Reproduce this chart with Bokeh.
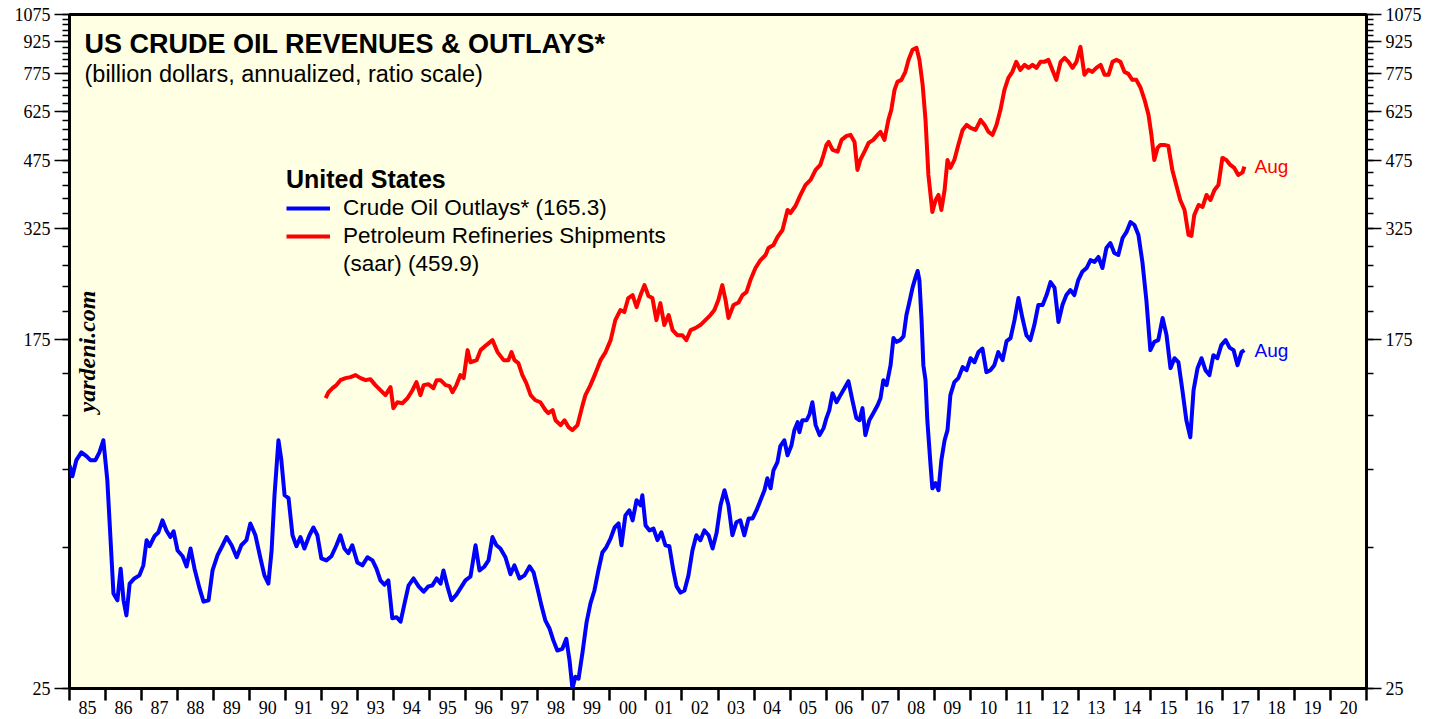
import math
from bokeh.plotting import figure
from bokeh.models import FixedTicker, LogAxis, Label, Legend, LegendItem
from bokeh.embed import file_html
from bokeh.resources import INLINE

# ---------------- data (billion dollars, annualized) ----------------
blue_t = [1985.00, 1985.08, 1985.19, 1985.33, 1985.47, 1985.58, 1985.72, 1985.83, 1985.94, 1986.05,
          1986.14, 1986.22, 1986.33, 1986.42, 1986.50, 1986.58, 1986.67, 1986.80, 1986.94, 1987.05,
          1987.14, 1987.22, 1987.36, 1987.47, 1987.58, 1987.69, 1987.80, 1987.89, 1988.00, 1988.14,
          1988.25, 1988.36, 1988.47, 1988.61, 1988.72, 1988.86, 1988.97, 1989.11, 1989.25, 1989.36,
          1989.50, 1989.64, 1989.77, 1989.91, 1990.02, 1990.16, 1990.30, 1990.41, 1990.52, 1990.61,
          1990.69, 1990.80, 1990.88, 1990.97, 1991.08, 1991.19, 1991.30, 1991.41, 1991.52, 1991.66,
          1991.77, 1991.88, 1991.99, 1992.13, 1992.27, 1992.41, 1992.52, 1992.63, 1992.74, 1992.85,
          1992.99, 1993.13, 1993.27, 1993.41, 1993.52, 1993.63, 1993.74, 1993.85, 1993.96, 1994.08,
          1994.19, 1994.30, 1994.41, 1994.55, 1994.69, 1994.83, 1994.96, 1995.07, 1995.19, 1995.30,
          1995.38, 1995.49, 1995.60, 1995.74, 1995.85, 1995.99, 1996.13, 1996.27, 1996.38, 1996.52,
          1996.63, 1996.74, 1996.85, 1996.96, 1997.10, 1997.24, 1997.35, 1997.49, 1997.63, 1997.77,
          1997.88, 1997.99, 1998.10, 1998.21, 1998.32, 1998.43, 1998.54, 1998.68, 1998.79, 1998.88,
          1998.96, 1999.04, 1999.13, 1999.24, 1999.35, 1999.46, 1999.57, 1999.68, 1999.79, 1999.90,
          2000.02, 2000.13, 2000.24, 2000.32, 2000.43, 2000.54, 2000.63, 2000.74, 2000.85, 2000.90,
          2000.99, 2001.10, 2001.21, 2001.32, 2001.43, 2001.54, 2001.65, 2001.76, 2001.85, 2001.96,
          2002.07, 2002.18, 2002.29, 2002.40, 2002.51, 2002.62, 2002.74, 2002.85, 2002.96, 2003.07,
          2003.18, 2003.29, 2003.40, 2003.51, 2003.62, 2003.73, 2003.85, 2003.96, 2004.07, 2004.18,
          2004.29, 2004.37, 2004.46, 2004.54, 2004.65, 2004.73, 2004.84, 2004.93, 2005.04, 2005.12,
          2005.21, 2005.26, 2005.34, 2005.46, 2005.54, 2005.62, 2005.71, 2005.82, 2005.93, 2006.01,
          2006.09, 2006.18, 2006.29, 2006.40, 2006.51, 2006.62, 2006.73, 2006.84, 2006.93, 2007.01,
          2007.09, 2007.20, 2007.31, 2007.43, 2007.51, 2007.59, 2007.68, 2007.79, 2007.87, 2007.95,
          2008.06, 2008.15, 2008.23, 2008.31, 2008.40, 2008.48, 2008.54, 2008.59, 2008.65, 2008.70,
          2008.76, 2008.81, 2008.90, 2008.95, 2009.04, 2009.12, 2009.20, 2009.29, 2009.37, 2009.45,
          2009.56, 2009.67, 2009.79, 2009.90, 2010.01, 2010.12, 2010.23, 2010.34, 2010.45, 2010.56,
          2010.67, 2010.78, 2010.90, 2011.01, 2011.12, 2011.23, 2011.34, 2011.45, 2011.56, 2011.67,
          2011.78, 2011.89, 2012.01, 2012.12, 2012.23, 2012.34, 2012.45, 2012.56, 2012.67, 2012.78,
          2012.89, 2013.00, 2013.11, 2013.23, 2013.34, 2013.45, 2013.56, 2013.67, 2013.78, 2013.89,
          2014.00, 2014.11, 2014.23, 2014.34, 2014.45, 2014.56, 2014.67, 2014.78, 2014.89, 2015.00,
          2015.11, 2015.22, 2015.34, 2015.45, 2015.56, 2015.67, 2015.78, 2015.89, 2016.00, 2016.11,
          2016.20, 2016.31, 2016.42, 2016.53, 2016.64, 2016.75, 2016.86, 2016.97, 2017.09, 2017.20,
          2017.31, 2017.42, 2017.53, 2017.61]
blue_v = [86.9, 81.7, 89.4, 93.4, 91.4, 89.4, 89.4, 93.4, 99.9, 79.9,
          57.2, 42.5, 40.9, 48.8, 40.9, 37.6, 44.9, 46.2, 47.0, 49.7,
          57.2, 55.3, 58.5, 59.8, 63.9, 60.4, 58.2, 60.1, 54.0, 52.3,
          49.4, 54.6, 48.8, 43.7, 40.6, 40.9, 48.3, 52.6, 55.6, 58.2,
          55.6, 52.0, 55.6, 57.2, 62.8, 58.8, 51.7, 47.0, 44.9, 54.0,
          73.5, 99.9, 89.4, 73.5, 72.3, 58.8, 55.3, 58.2, 54.6, 58.8,
          61.4, 58.8, 51.7, 51.1, 52.3, 55.6, 58.8, 54.6, 53.2, 55.6,
          50.5, 49.7, 52.0, 51.1, 48.8, 45.7, 44.6, 45.7, 37.0, 37.2,
          36.3, 40.2, 44.4, 46.2, 44.2, 42.9, 44.2, 44.4, 46.2, 44.9,
          48.3, 44.2, 40.9, 42.2, 43.7, 45.7, 46.7, 55.6, 48.3, 49.4,
          51.1, 58.2, 55.6, 54.6, 52.0, 47.3, 49.7, 46.2, 47.0, 49.4,
          47.8, 43.7, 39.7, 36.5, 35.0, 32.7, 30.9, 31.2, 33.0, 29.2,
          25.0, 26.7, 26.4, 30.6, 36.1, 40.2, 43.2, 48.3, 53.4, 55.0,
          57.8, 61.4, 62.8, 55.6, 65.7, 67.6, 63.9, 71.5, 69.5, 73.5,
          62.1, 60.4, 61.0, 57.2, 59.8, 55.6, 55.3, 48.3, 44.2, 42.7,
          43.2, 47.0, 54.0, 58.8, 57.2, 60.4, 58.8, 54.6, 59.5, 69.5,
          75.6, 69.5, 58.8, 63.2, 63.9, 58.8, 64.6, 64.6, 67.6, 71.5,
          75.6, 80.8, 76.4, 84.5, 88.4, 96.7, 99.9, 91.9, 97.2, 105.7,
          110.5, 104.5, 111.7, 111.7, 115.5, 123.5, 108.7, 102.8, 106.9, 113.0,
          118.2, 129.9, 123.5, 128.5, 133.6, 138.9, 124.9, 113.0, 111.7, 119.5,
          102.8, 111.7, 116.2, 121.5, 126.3, 139.7, 135.9, 151.9, 176.7, 173.0,
          174.7, 178.6, 200.9, 215.5, 234.2, 247.6, 256.9, 244.2, 195.3, 151.9,
          139.7, 111.7, 86.9, 76.4, 78.6, 75.6, 89.4, 99.9, 105.7, 128.5,
          138.2, 141.3, 150.2, 147.7, 157.9, 154.4, 163.4, 166.6, 146.1, 147.7,
          151.9, 163.4, 156.2, 173.7, 176.7, 195.3, 220.9, 197.6, 179.6, 174.7,
          190.0, 212.4, 212.4, 224.6, 241.5, 234.2, 193.2, 212.4, 224.6, 231.0,
          224.6, 244.2, 255.7, 261.2, 273.1, 270.1, 277.8, 261.2, 292.0, 300.3,
          284.0, 280.9, 308.8, 319.5, 337.6, 332.1, 314.1, 270.1, 218.4, 165.2,
          173.0, 174.7, 197.6, 179.6, 149.4, 157.9, 154.4, 132.1, 111.7, 101.6,
          132.1, 149.4, 157.9, 147.7, 143.7, 160.6, 157.9, 169.9, 174.7, 167.5,
          165.2, 151.9, 163.4, 165.3]

red_t = [1992.11, 1992.19, 1992.30, 1992.41, 1992.52, 1992.66, 1992.80, 1992.94, 1993.08, 1993.22,
         1993.35, 1993.49, 1993.63, 1993.77, 1993.91, 1993.99, 1994.10, 1994.24, 1994.38, 1994.52,
         1994.63, 1994.74, 1994.83, 1994.96, 1995.10, 1995.19, 1995.30, 1995.44, 1995.55, 1995.63,
         1995.74, 1995.85, 1995.94, 1996.05, 1996.13, 1996.30, 1996.41, 1996.57, 1996.74, 1996.88,
         1997.05, 1997.18, 1997.27, 1997.35, 1997.46, 1997.57, 1997.68, 1997.80, 1997.93, 1998.07,
         1998.21, 1998.29, 1998.41, 1998.49, 1998.63, 1998.74, 1998.85, 1998.96, 1999.10, 1999.24,
         1999.32, 1999.46, 1999.60, 1999.74, 1999.88, 2000.02, 2000.15, 2000.29, 2000.40, 2000.51,
         2000.63, 2000.74, 2000.85, 2000.96, 2001.07, 2001.18, 2001.29, 2001.40, 2001.51, 2001.63,
         2001.74, 2001.87, 2002.01, 2002.12, 2002.24, 2002.37, 2002.51, 2002.65, 2002.79, 2002.90,
         2003.01, 2003.12, 2003.21, 2003.29, 2003.43, 2003.57, 2003.68, 2003.79, 2003.90, 2004.04,
         2004.18, 2004.32, 2004.40, 2004.54, 2004.65, 2004.79, 2004.93, 2005.01, 2005.15, 2005.29,
         2005.43, 2005.57, 2005.71, 2005.84, 2005.93, 2006.01, 2006.07, 2006.18, 2006.32, 2006.43,
         2006.57, 2006.68, 2006.79, 2006.87, 2006.95, 2007.09, 2007.18, 2007.31, 2007.43, 2007.51,
         2007.62, 2007.73, 2007.81, 2007.90, 2007.98, 2008.09, 2008.20, 2008.29, 2008.40, 2008.51,
         2008.59, 2008.68, 2008.76, 2008.84, 2008.95, 2009.04, 2009.12, 2009.20, 2009.29, 2009.37,
         2009.45, 2009.56, 2009.67, 2009.79, 2009.90, 2010.01, 2010.15, 2010.29, 2010.40, 2010.51,
         2010.62, 2010.73, 2010.84, 2010.95, 2011.06, 2011.17, 2011.28, 2011.39, 2011.51, 2011.62,
         2011.73, 2011.84, 2011.95, 2012.06, 2012.17, 2012.28, 2012.39, 2012.51, 2012.62, 2012.73,
         2012.84, 2012.95, 2013.06, 2013.17, 2013.28, 2013.39, 2013.50, 2013.62, 2013.73, 2013.84,
         2013.95, 2014.06, 2014.17, 2014.28, 2014.39, 2014.50, 2014.61, 2014.73, 2014.84, 2014.95,
         2015.03, 2015.11, 2015.20, 2015.28, 2015.39, 2015.50, 2015.61, 2015.72, 2015.83, 2015.95,
         2016.06, 2016.14, 2016.22, 2016.34, 2016.45, 2016.56, 2016.67, 2016.78, 2016.89, 2017.00,
         2017.11, 2017.22, 2017.33, 2017.44, 2017.56, 2017.61]
red_v = [126.3, 130.6, 133.6, 135.9, 139.7, 141.3, 142.1, 143.7, 141.3, 139.7,
         140.5, 135.9, 132.1, 128.5, 134.4, 119.5, 123.5, 122.8, 126.3, 132.1,
         138.2, 128.5, 135.9, 136.6, 133.6, 139.7, 139.7, 135.9, 135.1, 130.6,
         135.9, 143.7, 141.3, 165.2, 154.4, 156.2, 165.2, 169.9, 174.7, 163.4,
         156.2, 156.2, 163.4, 156.2, 153.6, 143.7, 137.4, 128.5, 124.9, 123.5,
         118.2, 116.2, 118.2, 111.7, 108.7, 111.7, 107.5, 105.7, 108.7, 121.5,
         128.5, 135.9, 145.3, 156.2, 163.4, 174.7, 195.3, 206.6, 204.3, 220.9,
         224.6, 210.0, 224.6, 237.5, 223.4, 220.9, 195.3, 214.7, 190.0, 200.9,
         184.7, 179.6, 179.6, 174.7, 184.7, 186.8, 190.0, 195.3, 200.9, 206.6,
         218.4, 237.5, 218.4, 197.6, 212.4, 215.5, 224.6, 228.4, 244.2, 261.2,
         273.1, 280.9, 292.0, 297.0, 310.5, 323.0, 361.1, 355.1, 369.3, 392.7,
         415.3, 427.1, 451.6, 464.4, 491.1, 519.2, 527.8, 505.0, 500.2, 534.0,
         546.1, 549.1, 527.8, 451.6, 477.5, 505.0, 525.0, 534.0, 549.1, 558.3,
         534.0, 597.1, 631.4, 706.0, 738.2, 746.5, 780.6, 834.8, 882.7, 892.6,
         834.8, 726.0, 597.1, 439.2, 357.1, 381.9, 392.7, 361.1, 403.9, 477.5,
         456.7, 477.5, 519.2, 564.6, 580.6, 570.9, 564.6, 597.1, 580.6, 558.3,
         549.1, 580.6, 631.4, 706.0, 755.0, 780.6, 825.4, 789.4, 811.7, 798.3,
         811.7, 798.3, 825.4, 825.4, 834.8, 789.4, 746.5, 825.4, 844.2, 825.4,
         798.3, 825.4, 897.6, 767.7, 789.4, 780.6, 798.3, 811.7, 767.7, 767.7,
         825.4, 834.8, 825.4, 780.6, 772.0, 746.5, 746.5, 714.0, 667.7, 614.0,
         549.1, 477.5, 510.7, 519.2, 519.2, 516.4, 451.6, 415.3, 381.9, 361.1,
         314.1, 312.4, 351.2, 371.4, 367.3, 392.7, 381.9, 403.9, 415.3, 482.9,
         477.5, 464.4, 456.7, 439.2, 445.4, 459.9]

y_tick_labels = [25, 175, 325, 475, 625, 775, 925, 1075]
y_minor_ticks = list(range(25, 1076, 30))
x_year_edges = list(range(1985, 2022))
x_year_labels = ["85", "86", "87", "88", "89", "90", "91", "92", "93", "94", "95", "96",
                 "97", "98", "99", "00", "01", "02", "03", "04", "05", "06", "07", "08",
                 "09", "10", "11", "12", "13", "14", "15", "16", "17", "18", "19", "20"]

legend_title = "United States"
blue_name = "Crude Oil Outlays* (165.3)"
red_name = "Petroleum Refineries Shipments"
red_name2 = "(saar) (459.9)"
last_month = "Aug"

# ---------------- figure ----------------
X0, X1, Y0, Y1 = 1985, 2021, 25, 1075
FW, FH = 1297, 674
LEFT, TOP = 69, 14

p = figure(frame_width=FW, frame_height=FH, x_range=(X0, X1), y_range=(Y0, Y1),
           y_axis_type="log", output_backend="svg", toolbar_location=None,
           min_border_left=LEFT, min_border_top=TOP, min_border_right=72, min_border_bottom=30,
           background_fill_color="#FFFFE3", border_fill_color="white")
p.outline_line_color = "black"
p.outline_line_width = 3
p.xgrid.visible = False
p.ygrid.visible = False

SERIF = "Liberation Serif"
SANS = "Liberation Sans"

def px_x(px):
    return X0 + (px - LEFT) / FW * (X1 - X0)

def px_y(py):
    return Y0 * (Y1 / Y0) ** ((TOP + FH - py) / FH)

# y axes (left + right)
yt = FixedTicker(ticks=y_tick_labels, minor_ticks=y_minor_ticks)
overrides = {v: str(v) for v in y_tick_labels}

def style_y(ax):
    ax.ticker = yt
    ax.major_label_overrides = overrides
    ax.axis_line_color = None
    ax.major_tick_out = 15
    ax.major_tick_in = 0
    ax.minor_tick_out = 7
    ax.minor_tick_in = 0
    ax.major_tick_line_width = 1.5
    ax.minor_tick_line_width = 1.5
    ax.major_tick_line_color = "black"
    ax.minor_tick_line_color = "black"
    ax.major_label_text_font = SERIF
    ax.major_label_text_font_size = "18px"
    ax.major_label_text_color = "black"
    ax.major_label_standoff = 4

style_y(p.yaxis[0])
ry = LogAxis()
style_y(ry)
p.add_layout(ry, "right")

# x axis: labels at mid-year, ticks at year boundaries
mids = [y + 0.5 for y in x_year_edges[:-1]]
xa = p.xaxis[0]
xa.ticker = FixedTicker(ticks=mids, minor_ticks=x_year_edges)
xa.major_label_overrides = {m: lab for m, lab in zip(mids, x_year_labels)}
xa.axis_line_color = None
xa.major_tick_out = 0
xa.major_tick_in = 0
xa.major_tick_line_color = None
xa.minor_tick_out = 12
xa.minor_tick_in = 0
xa.minor_tick_line_width = 2.5
xa.minor_tick_line_color = "black"
xa.major_label_text_font = SERIF
xa.major_label_text_font_size = "18px"
xa.major_label_text_color = "black"
xa.major_label_standoff = 0

# series
rb = p.line(blue_t, blue_v, line_color="#0000FF", line_width=4, line_join="round")
rr = p.line(red_t, red_v, line_color="#FF0000", line_width=4, line_join="round")
dummy = p.line([], [], line_alpha=0)

# end labels
p.add_layout(Label(x=red_t[-1] + 0.28, y=red_v[-1], text=last_month, text_color="#FF0000",
                   text_font=SANS, text_font_size="19px", text_baseline="middle"))
p.add_layout(Label(x=blue_t[-1] + 0.28, y=blue_v[-1], text=last_month, text_color="#0000FF",
                   text_font=SANS, text_font_size="19px", text_baseline="middle"))

# titles
p.add_layout(Label(x=px_x(84), y=px_y(43), text="US CRUDE OIL REVENUES & OUTLAYS*",
                   text_font=SANS, text_font_style="bold", text_font_size="27px",
                   text_color="black", text_baseline="alphabetic"))
p.add_layout(Label(x=px_x(84), y=px_y(73), text="(billion dollars, annualized, ratio scale)",
                   text_font=SANS, text_font_size="23.5px", text_color="black",
                   text_baseline="alphabetic"))

# watermark
p.add_layout(Label(x=px_x(86), y=px_y(351), text="yardeni.com", angle=math.pi / 2,
                   text_font=SERIF, text_font_style="bold italic", text_font_size="24px",
                   text_color="black", text_align="center", text_baseline="middle"))

# legend
leg = Legend(items=[LegendItem(label=blue_name, renderers=[rb]),
                    LegendItem(label=red_name, renderers=[rr]),
                    LegendItem(label=red_name2, renderers=[dummy])],
             title=legend_title, location=(217, 411),
             title_text_font=SANS, title_text_font_style="bold", title_text_font_size="25px",
             title_text_color="black",
             label_text_font=SANS, label_text_font_size="22.5px", label_text_color="black",
             glyph_width=44, glyph_height=24, label_standoff=13, spacing=2,
             padding=0, margin=0, title_standoff=1,
             border_line_color=None, background_fill_alpha=0)
p.add_layout(leg)

open("out.html", "w").write(file_html(p, INLINE))
